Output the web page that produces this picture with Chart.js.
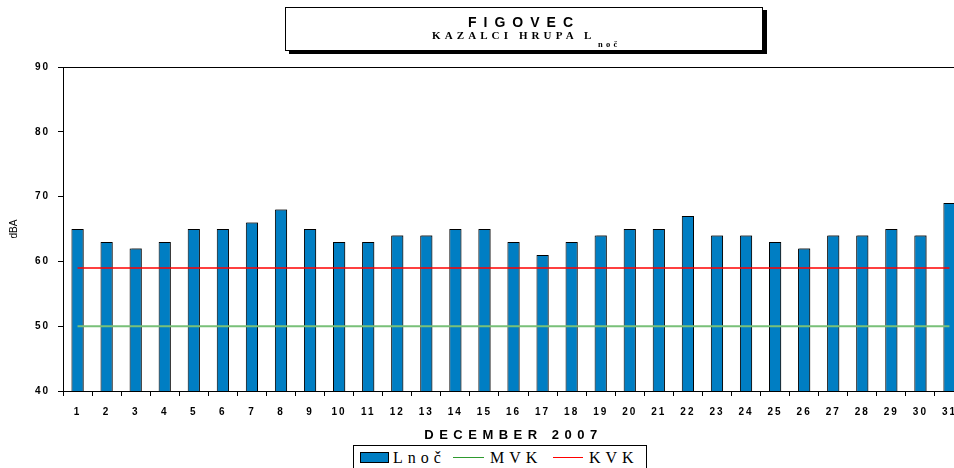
<!DOCTYPE html>
<html>
<head>
<meta charset="utf-8">
<script src="https://cdn.jsdelivr.net/npm/chart.js@4/dist/chart.umd.min.js"></script>
<style>
  html, body { margin: 0; padding: 0; background: #fff; overflow: hidden; width: 954px; height: 468px; }
  #wrap { position: absolute; left: 0; top: 0; width: 968px; height: 468px; }
  .abs { position: absolute; white-space: nowrap; line-height: 1; color: #000; }
  #titlebox { position: absolute; left: 285px; top: 7px; width: 476px; height: 42px; border: 1px solid #000; box-shadow: 4px 3px 0 #000; background: #fff; }
  #legendbox { position: absolute; left: 353px; top: 445px; width: 292px; height: 26px; border: 1px solid #000; background: #fff; }
  .sans { font-family: Arial, "Liberation Sans", sans-serif; font-weight: bold; }
  .serif { font-family: "Times New Roman", "Liberation Serif", serif; }
</style>
</head>
<body>
<div id="wrap"><canvas id="c"></canvas></div>

<div id="titlebox"></div>
<span class="abs sans" style="left:468px; top:15px; font-size:14px; letter-spacing:7px;">FIGOVEC</span>
<span class="abs serif" style="left:432px; top:30px; font-size:11px; font-weight:bold; letter-spacing:4.1px;">KAZALCI HRUPA L</span>
<span class="abs serif" style="left:598px; top:39.5px; font-size:8.5px; font-weight:bold; letter-spacing:3.2px;">noč</span>

<div id="legendbox"></div>
<div class="abs" style="left:360px; top:452px; width:27px; height:9px; background:#007ec3; border:1px solid #000;"></div>
<span class="abs serif" style="left:393px; top:450px; font-size:16px; letter-spacing:5px;">Lnoč</span>
<div class="abs" style="left:453px; top:457px; width:31px; height:1px; background:#2e9a2e;"></div>
<span class="abs serif" style="left:490px; top:450px; font-size:16px; letter-spacing:5px;">MVK</span>
<div class="abs" style="left:553px; top:457px; width:30px; height:1px; background:#ff0000;"></div>
<span class="abs serif" style="left:589px; top:450px; font-size:16px; letter-spacing:5px;">KVK</span>

<script>
// ---- data ----
const days = ['1','2','3','4','5','6','7','8','9','10','11','12','13','14','15','16','17','18','19','20','21','22','23','24','25','26','27','28','29','30','31'];
const lnoc = [65,63,62,63,65,65,66,68,65,63,63,64,64,65,65,63,61,63,64,65,65,67,64,64,63,62,64,64,65,64,69];
const mvk  = [50,50,50,50,50,50,50,50,50,50,50,50,50,50,50,50,50,50,50,50,50,50,50,50,50,50,50,50,50,50,50];
const kvk  = [59,59,59,59,59,59,59,59,59,59,59,59,59,59,59,59,59,59,59,59,59,59,59,59,59,59,59,59,59,59,59];
const yTicks = [40,50,60,70,80,90];
const xTitle = 'DECEMBER 2007';
const yTitle = 'dBA';

// letter spacing for axis text
const SP = Chart.Scale.prototype;
const origLabels = SP.drawLabels, origTitle = SP.drawTitle;
SP.drawLabels = function (a) {
  const c = this.ctx; c.save(); c.letterSpacing = '2px'; origLabels.call(this, a); c.restore();
};
SP.drawTitle = function (a) {
  const c = this.ctx; c.save(); c.letterSpacing = (this.id === 'x') ? '5.5px' : '0px'; origTitle.call(this, a); c.restore();
};

const barShadow = {
  id: 'barShadow',
  beforeDatasetDraw(chart, args) {
    if (args.index === 0) {
      const c = chart.ctx; c.save();
      c.shadowColor = 'rgba(0,0,0,0.35)'; c.shadowOffsetX = 1; c.shadowOffsetY = -1; c.shadowBlur = 0.5;
    }
  },
  afterDatasetDraw(chart, args) {
    if (args.index === 0) chart.ctx.restore();
  }
};

const FONT = 'Arial, "Liberation Sans", sans-serif';

new Chart(document.getElementById('c'), {
  type: 'bar',
  data: {
    labels: days,
    datasets: [
      { type: 'bar', label: 'Lnoč', data: lnoc, backgroundColor: '#007ec3', borderColor: '#000', borderWidth: 1,
        barPercentage: 0.42, categoryPercentage: 1, order: 2 },
      { type: 'line', label: 'MVK', data: mvk, borderColor: '#78c078', borderWidth: 2, pointRadius: 0, fill: false, order: 1 },
      { type: 'line', label: 'KVK', data: kvk, borderColor: '#ff0000', borderWidth: 1.5, pointRadius: 0, fill: false, order: 0 }
    ]
  },
  options: {
    responsive: true,
    maintainAspectRatio: false,
    animation: false,
    layout: { padding: { left: 0, right: 4, top: 67, bottom: 0 } },
    plugins: { legend: { display: false }, tooltip: { enabled: false }, title: { display: false } },
    scales: {
      x: {
        afterFit(s) { s.height = 77; },
        grid: { offset: true, drawOnChartArea: false, tickLength: 5, tickColor: '#000', color: '#000' },
        border: { color: '#000', width: 1 },
        ticks: { color: '#000', font: { family: FONT, size: 10, weight: 'bold' }, padding: 10, maxRotation: 0, autoSkip: false },
        title: { display: true, text: xTitle, color: '#000', font: { family: FONT, size: 13, weight: 'bold' }, padding: { top: 0, bottom: 25 } }
      },
      y: {
        min: 40, max: 90,
        afterFit(s) { s.width = 63; },
        afterBuildTicks(s) { s.ticks = yTicks.map(v => ({ value: v })); },
        grid: { color: ctx => (ctx.tick && ctx.tick.value === 90) ? '#000' : 'rgba(0,0,0,0)', tickColor: '#000', tickLength: 5, drawTicks: true },
        border: { color: '#000', width: 1 },
        ticks: { color: '#000', font: { family: FONT, size: 10, weight: 'bold' }, padding: 8 },
        title: { display: true, text: yTitle, color: '#000', font: { family: FONT, size: 10 }, padding: { top: 8, bottom: 0 } }
      }
    }
  },
  plugins: [barShadow]
});
</script>
</body>
</html>
